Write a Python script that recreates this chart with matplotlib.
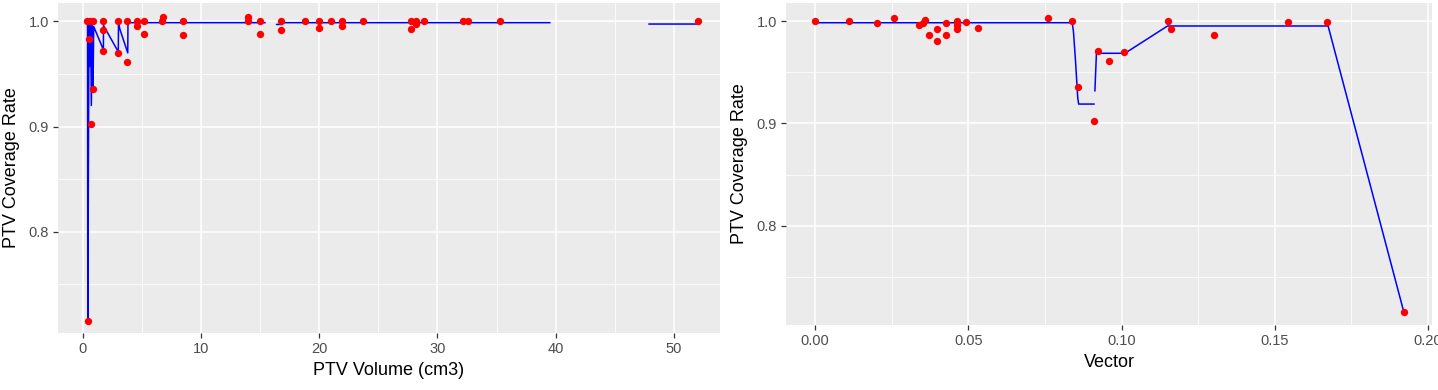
import matplotlib.pyplot as plt
import numpy as np

plt.rcParams['font.family'] = ['Liberation Sans', 'DejaVu Sans']

nan = np.nan

# left panel: PTV volume vs coverage
vol_x = [0.39, 0.62, 0.90, 0.40, 0.70, 0.56, 0.90, 1.74, 1.74, 1.74, 3.00, 3.00,
         3.77, 3.77, 4.60, 4.60, 5.20, 5.20, 6.70, 6.80, 8.45, 8.45, 14.0, 14.0,
         15.0, 15.0, 16.76, 16.76, 18.8, 20.0, 20.0, 20.96, 21.9, 21.9, 23.7,
         27.8, 27.8, 28.2, 28.2, 28.9, 32.2, 32.6, 35.3, 52.0]
vol_y = [1.000, 1.000, 1.000, 0.715, 0.902, 0.983, 0.936, 1.000, 0.992, 0.972,
         1.000, 0.970, 1.000, 0.961, 1.000, 0.996, 1.000, 0.988, 1.000, 1.004,
         1.000, 0.987, 1.004, 1.000, 1.000, 0.988, 1.000, 0.992, 1.000, 1.000,
         0.994, 1.000, 1.000, 0.996, 1.000, 1.000, 0.993, 1.000, 0.997, 1.000,
         1.000, 1.000, 1.000, 1.000]

vol_fit_x = [0.40, 0.42, 0.52, 0.56, 0.66, 0.72, 0.80, 0.86, 0.92,
             1.74, 1.75, 3.00, 3.02, 3.12, 3.80, 3.82, 15.4, nan, 16.4, 16.8,
             16.9, 39.5, nan, 47.9, 52.0]
vol_fit_y = [1.000, 0.715, 0.998, 0.957, 0.998, 0.920, 0.998,
             0.936, 0.995, 0.973, 0.996, 0.971, 1.000, 0.993, 0.970, 0.9987,
             0.9987, nan, 0.997, 0.997, 0.9987, 0.9987, nan, 0.9974, 0.9974]

# right panel: vector vs coverage
vec_x = [0.0, 0.0111, 0.0201, 0.0259, 0.0340, 0.0351, 0.0360, 0.0373, 0.0399,
         0.0399, 0.0427, 0.0427, 0.0462, 0.0462, 0.0462, 0.0491, 0.0530, 0.0761,
         0.0839, 0.0859, 0.0911, 0.0922, 0.0960, 0.1009, 0.1150, 0.1161, 0.1302,
         0.1542, 0.1669, 0.1921]
vec_y = [1.000, 1.000, 0.998, 1.0035, 0.9964, 0.998, 1.001, 0.9866, 0.992,
         0.9807, 0.998, 0.9866, 1.000, 0.996, 0.9925, 0.999, 0.993, 1.0035,
         1.000, 0.936, 0.902, 0.971, 0.961, 0.970, 1.000, 0.992, 0.9866,
         0.999, 0.999, 0.7156]

vec_fit_x = [0.0, 0.0839, 0.0843, 0.0850, 0.0857, 0.0860, 0.0910, nan, 0.0913,
             0.0918, 0.1011, 0.1150, 0.1674, 0.1921]
vec_fit_y = [0.9986, 0.9986, 0.990, 0.960, 0.925, 0.919, 0.919, nan, 0.932,
             0.9687, 0.9687, 0.9954, 0.9954, 0.7156]

BG = '#EBEBEB'


def style_axes(ax, xmajor, xminor, xlabels):
    ax.set_facecolor(BG)
    for s in ax.spines.values():
        s.set_visible(False)
    ax.set_xticks(xmajor)
    ax.set_xticklabels(xlabels)
    ax.set_xticks(xminor, minor=True)
    ax.set_yticks([0.8, 0.9, 1.0])
    ax.set_yticklabels(['0.8', '0.9', '1.0'])
    ax.set_yticks([0.75, 0.85, 0.95], minor=True)
    ax.grid(which='major', color='white', linewidth=1.1)
    ax.grid(which='minor', color='white', linewidth=0.55)
    ax.set_axisbelow(True)
    ax.tick_params(which='major', length=3.5, width=0.9, color='#333333',
                   labelcolor='#4D4D4D', labelsize=10.5, pad=3)
    ax.tick_params(which='minor', length=0)


fig = plt.figure(figsize=(14.38, 3.9), dpi=100)

ax1 = fig.add_axes([58 / 1438, 1 - 333 / 390, 662 / 1438, 330 / 390])
style_axes(ax1, [0, 10, 20, 30, 40, 50], [5, 15, 25, 35, 45],
           ['0', '10', '20', '30', '40', '50'])
ax1.plot(vol_fit_x, vol_fit_y, color='#0000FF', linewidth=1.1, zorder=2)
ax1.scatter(vol_x, vol_y, color='#FF0000', s=28, zorder=3, linewidths=0)
ax1.set_xlim(-2.1, 53.9)
ax1.set_ylim(0.7037, 1.0174)
ax1.set_xlabel('PTV Volume (cm3)', fontsize=13, labelpad=4)
ax1.set_ylabel('PTV Coverage Rate', fontsize=13, labelpad=6)

ax2 = fig.add_axes([786 / 1438, 1 - 325 / 390, 646 / 1438, 322 / 390])
style_axes(ax2, [0.0, 0.05, 0.10, 0.15, 0.20], [0.025, 0.075, 0.125, 0.175],
           ['0.00', '0.05', '0.10', '0.15', '0.20'])
ax2.plot(vec_fit_x, vec_fit_y, color='#0000FF', linewidth=1.1, zorder=2)
ax2.scatter(vec_x, vec_y, color='#FF0000', s=28, zorder=3, linewidths=0)
ax2.set_xlim(-0.0095, 0.2013)
ax2.set_ylim(0.7028, 1.0179)
ax2.set_xlabel('Vector', fontsize=13, labelpad=4)
ax2.set_ylabel('PTV Coverage Rate', fontsize=13, labelpad=6)

fig.savefig('out.png', dpi=100)
